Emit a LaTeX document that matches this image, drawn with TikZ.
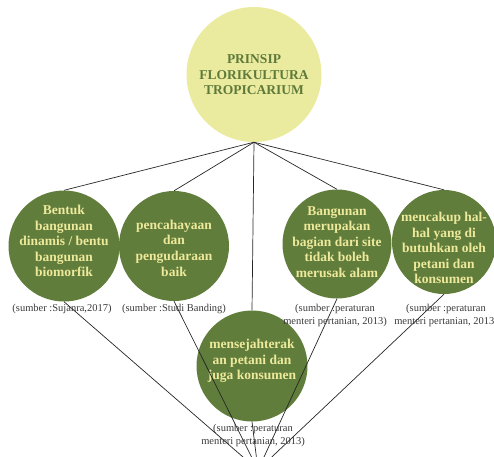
\documentclass[tikz,border=0pt]{standalone}
\usepackage{fontspec}
\setmainfont{Liberation Serif}
\definecolor{ylw}{HTML}{EBEB9F}
\definecolor{grn}{HTML}{607D3B}
\definecolor{ltx}{HTML}{EEE99B}
\definecolor{dtx}{HTML}{5E7A3A}
\definecolor{lbl}{HTML}{3A3A3A}
\begin{document}
\begin{tikzpicture}[x=1pt,y=-1pt,
  topcirc/.style={circle, fill=ylw, draw=none, minimum size=135pt, inner sep=0pt},
  gcirc/.style={circle, fill=grn, draw=none, inner sep=0pt},
  ttext/.style={text=dtx, font=\fontsize{13.5}{15.5}\selectfont\bfseries, align=center, inner sep=0pt},
  gtext/.style={text=ltx, font=\fontsize{13.5}{15.6}\selectfont\bfseries, align=center, inner sep=0pt},
  lbltext/.style={text=lbl, font=\fontsize{10.5}{13}\selectfont, align=center, inner sep=0pt},
  conn/.style={draw=black!85, line width=0.7pt}]
\useasboundingbox (0,0) rectangle (494,456);
\clip (0,0) rectangle (494,456);
% circles
\node[topcirc] (top) at (254,74.5) {};
\node[gcirc, minimum size=111pt] (c1) at (64,246) {};
\node[gcirc, minimum size=110pt] (c2) at (174,246) {};
\node[gcirc, minimum size=111pt] (c3) at (252,366) {};
\node[gcirc, minimum size=109pt] (c4) at (337,244) {};
\node[gcirc, minimum size=104pt] (c5) at (444,242) {};
% top connectors
\draw[conn] (top.south) -- (c1.north);
\draw[conn] (top.south) -- (c2.north);
\draw[conn] (top.south) -- (c3.north);
\draw[conn] (top.south) -- (c4.north);
\draw[conn] (top.south) -- (c5.north);
% texts
\node[ttext] (tt) at (254,75) {PRINSIP\\FLORIKULTURA\\TROPICARIUM};
\node[gtext] (t1) at (64,241) {Bentuk\\bangunan\\dinamis / bentu\\bangunan\\biomorfik};
\node[gtext] (t2) at (174,248) {pencahayaan\\dan\\pengudaraan\\baik};
\node[gtext] (t3) at (252,361) {mensejahterak\\an petani dan\\juga konsumen};
\node[gtext] (t4) at (337,242) {Bangunan\\merupakan\\bagian dari site\\tidak boleh\\merusak alam};
\node[gtext] (t5) at (444,248) {mencakup hal-\\hal yang di\\butuhkan oleh\\petani dan\\konsumen};
% labels
\node[lbltext] (l1) at (62,309) {(sumber :Sujanra,2017)};
\node[lbltext] (l2) at (174,309) {(sumber :Studi Banding)};
\node[lbltext] (l4) at (335,315) {(sumber :peraturan\\menteri pertanian, 2013)};
\node[lbltext] (l5) at (446,315) {(sumber :peraturan\\menteri pertanian, 2013)};
\node[lbltext] (l3) at (253,435) {(sumber :peraturan\\menteri pertanian, 2013)};
% bottom connectors
\coordinate (bot) at (258,470);
\draw[conn] (c1.south) -- (bot);
\draw[conn] (c2.south) -- (bot);
\draw[conn] (c3.south) -- (bot);
\draw[conn] (c4.south) -- (bot);
\draw[conn] (c5.south) -- (bot);
\end{tikzpicture}
\end{document}
